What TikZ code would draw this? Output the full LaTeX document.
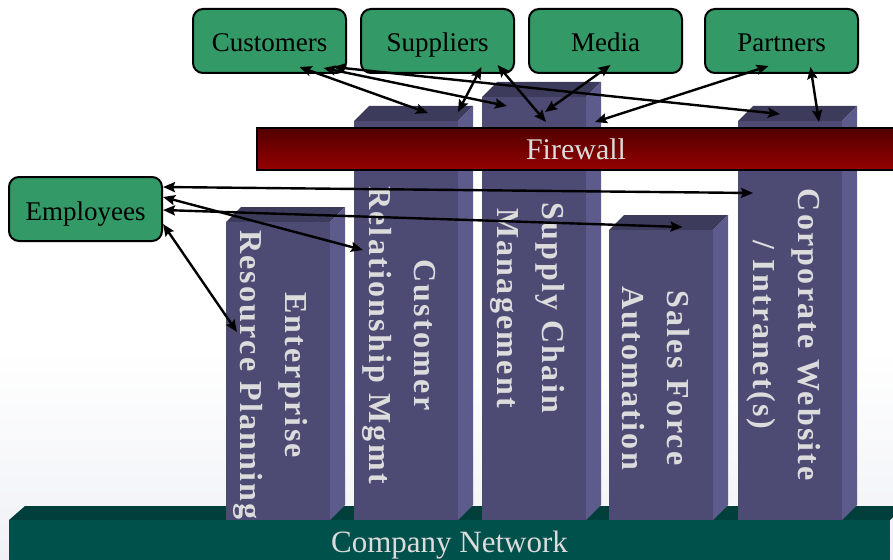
\documentclass[tikz,border=0pt]{standalone}
\usepackage{fontspec}
\setmainfont{Liberation Serif}
\newfontfamily\pillarfont[LetterSpace=7]{Liberation Serif}
\usepackage{tikz}
\tikzset{
  every node/.style = {
    inner sep = 0pt,
    outer sep = 0pt
  }
}
\usetikzlibrary{
arrows.meta
}
\definecolor{boxgreen}{HTML}{339966}
\definecolor{pillarfront}{HTML}{4D4B74}
\definecolor{pillartop}{HTML}{3C3B5C}
\definecolor{pillarside}{HTML}{5D5B8C}
\definecolor{nettop}{HTML}{003F3B}
\definecolor{netfront}{HTML}{00504C}
\definecolor{firedark}{HTML}{520000}
\definecolor{firered}{HTML}{950000}
\definecolor{labelgray}{HTML}{DCDCDC}
\definecolor{fog}{HTML}{F0F1F6}

\newcommand{\drawpillar}[3]{%
  \fill[pillar top] (#2,#3) -- ++(15,-15) -- ++(104,0) -- ++(-15,15) -- cycle;
  \fill[pillar side] (#2+104,#3) -- ++(15,-15) -- (#2+119,505) -- (#2+104,520) -- cycle;
  \node[pillar front, minimum height={520-#3}, anchor=north west] (#1) at (#2,#3) {};
}

\begin{document}
\begin{tikzpicture}[
      x=1pt,
      y=-1pt,
      group/.style={
        draw=black,
        line width=2pt,
        rounded corners=10pt,
        fill=boxgreen,
        minimum width=153,
        minimum height=64,
        text height=22,
        text depth=0,
        font=\fontsize{27}{32}\selectfont,
      },
      pillar top/.style={fill=pillartop},
      pillar side/.style={fill=pillarside},
      pillar front/.style={fill=pillarfront, minimum width=104},
      pillar label/.style={
        rotate=-90,
        align=center,
        text=labelgray,
        font=\pillarfont\bfseries\fontsize{32}{45}\selectfont,
      },
      firewall/.style={
        anchor=north west,
        draw=black,
        line width=2pt,
        top color=firedark,
        bottom color=firered,
        minimum width=638,
        minimum height=42,
        text height=20,
        text depth=0,
        text=labelgray,
        font=\fontsize{30}{36}\selectfont,
      },
      network/.style={
        anchor=north west,
        fill=netfront,
        minimum width=881,
        minimum height=42,
        text height=22,
        text depth=0,
        text=labelgray,
        font=\fontsize{31}{37}\selectfont,
      },
      link/.style={
        line width=2.4pt,
        {Stealth[length=12pt,width=10pt,inset=2pt]}-{Stealth[length=12pt,width=10pt,inset=2pt]}
      },
      ]
      \useasboundingbox (0,0) rectangle (893,559);
      \fill[top color=white, bottom color=fog] (0,350) rectangle (893,559);

      \fill[nettop] (9,520) -- (25,506) -- (906,506) -- (890,520) -- cycle;

      \drawpillar{erp}{226}{222}
      \drawpillar{crm}{354}{121}
      \drawpillar{scm}{482}{97}
      \drawpillar{sfa}{609}{230}
      \drawpillar{corp}{738}{121}

      \node[pillar label] (erp-label) at (271,375) {Enterprise\\Resource Planning};
      \node[pillar label] (crm-label) at (399,335) {Customer\\Relationship Mgmt};
      \node[pillar label] (scm-label) at (528,308) {Supply Chain\\Management};
      \node[pillar label] (sfa-label) at (656,378) {Sales Force\\Automation};
      \node[pillar label] (corp-label) at (784,335) {Corporate Website\\/ Intranet(s)};

      \node[network] (network) at (9,520) {Company Network};
      \node[firewall] (firewall) at (257,128) {Firewall};

      \node[group] (customers) at (269.5,41) {Customers};
      \node[group] (suppliers) at (437.5,41) {Suppliers};
      \node[group] (media) at (605.5,41) {Media};
      \node[group] (partners) at (781.5,41) {Partners};
      \node[group] (employees) at (85.5,209) {Employees};

      \draw[link] ([shift={(30,-6)}]customers.south) -- ([shift={(22,-8)}]crm.north);
      \draw[link] ([shift={(54,-5)}]customers.south) -- ([shift={(-27,9)}]scm.north);
      \draw[link] ([shift={(64,-6)}]customers.south) -- ([shift={(-10,-7)}]corp.north);
      \draw[link] ([shift={(44,-6)}]suppliers.south) -- ([shift={(52,-9)}]crm.north);
      \draw[link] ([shift={(60,-8)}]suppliers.south) -- ([shift={(12,25)}]scm.north);
      \draw[link] ([shift={(5,-8)}]media.south) -- ([shift={(11,15)}]scm.north);
      \draw[link] ([shift={(-13,-7)}]partners.south) -- ([shift={(61,25)}]scm.north);
      \draw[link] ([shift={(29,-6)}]partners.south) -- ([shift={(29,1)}]corp.north);
      \draw[link] ([shift={(1,-22)}]employees.east) -- ([shift={(-37,72)}]corp.north);
      \draw[link] ([shift={(1,-12)}]employees.east) -- ([shift={(-43,129)}]crm.north);
      \draw[link] ([shift={(1,1)}]employees.east) -- ([shift={(21.5,-3)}]sfa.north);
      \draw[link] ([shift={(1,15)}]employees.east) -- ([shift={(-41,110)}]erp.north);
    \end{tikzpicture}
\end{document}
